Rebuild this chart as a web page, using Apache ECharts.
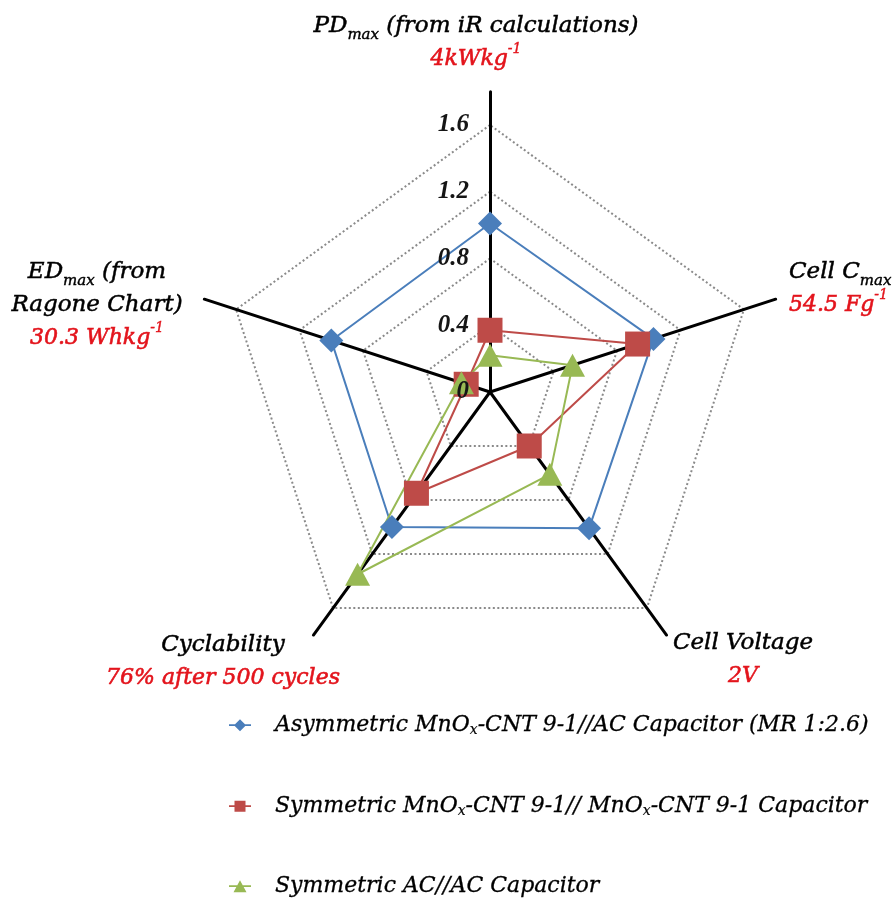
<!DOCTYPE html>
<html>
<head>
<meta charset="utf-8">
<script src="https://cdn.jsdelivr.net/npm/echarts@6.0.0/dist/echarts.min.js"></script>
<style>
html,body{margin:0;padding:0;background:#fff;}
#chart{width:895px;height:898px;}
</style>
</head>
<body>
<div id="chart"></div>
<script>
// ---- data ----
const indicatorNames = ['PDmax (from iR calculations)', 'EDmax (from Ragone Chart)', 'Cyclability', 'Cell Voltage', 'Cell Cmax'];
const indicatorTitles = [
  '{t|PD}{s|max}{t| (from iR calculations)}\n{r|4kWkg}{rs|-1}',
  '{t|ED}{s|max}{t| (from}\n{t|Ragone Chart)}\n{r|30.3 Whkg}{rs|-1}',
  '{t|Cyclability}\n{r|76% after 500 cycles}',
  '{t|Cell Voltage}\n{r|2V}',
  '{t|Cell C}{s|max}\n{r|54.5 Fg}{rs|-1}'
];
const tickValues = [0, 0.4, 0.8, 1.2, 1.6];
const axisMax = 1.6;
const axisLineMax = 1.8;
const seriesNames = [
  'Asymmetric MnOx-CNT 9-1//AC Capacitor (MR 1:2.6)',
  'Symmetric MnOx-CNT 9-1// MnOx-CNT 9-1 Capacitor',
  'Symmetric AC//AC Capacitor'
];
const legendLabels = [
  '{pad| }{t|Asymmetric MnO}{s|x}{t|-CNT 9-1//AC Capacitor (MR 1:2.6)}',
  '{pad| }{t|Symmetric MnO}{s|x}{t|-CNT 9-1// MnO}{s|x}{t|-CNT 9-1 Capacitor}',
  '{pad| }{t|Symmetric AC//AC Capacitor}'
];
// values in indicator order: PD, ED, Cyclability, Cell Voltage, Cell C
const asymValues = [1.01, 1.0, 1.0, 1.01, 1.03];
const symMnValues = [0.37, 0.15, 0.75, 0.40, 0.93];
const symACValues = [0.22, 0.18, 1.35, 0.61, 0.52];

// ---- styling ----
const colors = ['#4a7ebb', '#be4b48', '#98b954'];
const symbols = ['diamond', 'rect', 'triangle'];
const symbolSizes = [[24, 24], [25, 25], [25, 23]];
const legendIcons = [
  'path://M0,5.2L22,5.2L22,6.8L0,6.8Z M11,0L17,6L11,12L5,6Z',
  'path://M0,5.2L22,5.2L22,6.8L0,6.8Z M5.5,0.5L16.5,0.5L16.5,11.5L5.5,11.5Z',
  'path://M0,5.2L22,5.2L22,6.8L0,6.8Z M11,0L17.5,12L4.5,12Z'
];
const legendTops = [714, 795, 875];
const RED = '#e3141c';
const SERIF = 'DejaVu Serif';
const titleRich = {
  t: {fontFamily: SERIF, fontStyle: 'italic', fontSize: 23, fill: '#000', lineHeight: 33, stroke: '#000', lineWidth: 0.5},
  s: {fontFamily: SERIF, fontStyle: 'italic', fontSize: 15, fill: '#000', verticalAlign: 'bottom', lineHeight: 17, stroke: '#000', lineWidth: 0.4},
  r: {fontFamily: SERIF, fontStyle: 'italic', fontSize: 22, fill: RED, lineHeight: 33, stroke: RED, lineWidth: 0.6},
  rs: {fontFamily: SERIF, fontStyle: 'italic', fontSize: 14, fill: RED, verticalAlign: 'top', lineHeight: 22, stroke: RED, lineWidth: 0.4}
};
const titlePlacement = [
  {x: 476, y: 9.5, align: 'center'},
  {x: 97, y: 255.5, align: 'center'},
  {x: 223, y: 628.5, align: 'center'},
  {x: 743, y: 626.5, align: 'center'},
  {x: 789, y: 255.5, align: 'left'}
];
const CX = 490, CY = 392, R = 267;

const chart = echarts.init(document.getElementById('chart'), null, {renderer: 'canvas'});

const hiddenRadarParts = {
  axisName: {show: false},
  axisTick: {show: false},
  axisLabel: {show: false},
  splitArea: {show: false}
};

const option = {
  animation: false,
  backgroundColor: '#fff',
  radar: [
    Object.assign({
      center: [CX, CY],
      radius: R,
      startAngle: 90,
      shape: 'polygon',
      splitNumber: tickValues.length - 1,
      indicator: indicatorNames.map(n => ({name: n, min: 0, max: axisMax})),
      axisLine: {show: false},
      splitLine: {lineStyle: {color: '#8a8a8a', width: 2, type: [2, 2.5]}}
    }, hiddenRadarParts),
    Object.assign({
      center: [CX, CY],
      radius: R * axisLineMax / axisMax,
      startAngle: 90,
      shape: 'polygon',
      indicator: indicatorNames.map(n => ({name: n, min: 0, max: axisLineMax})),
      axisLine: {show: true, lineStyle: {color: '#000', width: 3}},
      splitLine: {show: false}
    }, hiddenRadarParts),
    // tick labels on top of everything
    Object.assign({
      z: 10,
      center: [CX, CY],
      radius: R,
      startAngle: 90,
      shape: 'polygon',
      splitNumber: tickValues.length - 1,
      indicator: indicatorNames.map((n, i) => {
        const ind = {name: n, min: 0, max: axisMax};
        if (i === 0) {
          ind.axisLabel = {
            show: true,
            margin: 21,
            fontFamily: 'Liberation Serif',
            fontStyle: 'italic',
            fontWeight: 'bold',
            fontSize: 25,
            color: '#151515',
            formatter: v => String(+(+v).toFixed(1))
          };
        }
        return ind;
      }),
      axisLine: {show: false},
      splitLine: {show: false}
    }, hiddenRadarParts)
  ],
  legend: seriesNames.map((n, i) => ({
    orient: 'vertical',
    left: 229,
    top: legendTops[i],
    padding: 0,
    itemWidth: 22,
    itemHeight: 12,
    selectedMode: false,
    data: [{name: n, icon: legendIcons[i]}],
    formatter: name => legendLabels[seriesNames.indexOf(name)],
    textStyle: {
      rich: {
        pad: {width: 19, fontSize: 22, lineHeight: 24},
        t: {fontFamily: SERIF, fontStyle: 'italic', fontSize: 22, color: '#000', lineHeight: 24, textBorderColor: '#000', textBorderWidth: 0.3},
        s: {fontFamily: SERIF, fontStyle: 'italic', fontSize: 14, color: '#000', verticalAlign: 'bottom', lineHeight: 13, textBorderColor: '#000', textBorderWidth: 0.2}
      }
    }
  })),
  graphic: indicatorTitles.map((txt, i) => ({
    type: 'text',
    x: titlePlacement[i].x,
    y: titlePlacement[i].y,
    silent: true,
    style: {
      text: txt,
      rich: titleRich,
      align: titlePlacement[i].align,
      verticalAlign: 'top'
    }
  })),
  series: [asymValues, symMnValues, symACValues].map((vals, i) => ({
    type: 'radar',
    radarIndex: 0,
    symbol: symbols[i],
    symbolSize: symbolSizes[i],
    itemStyle: {color: colors[i]},
    lineStyle: {color: colors[i], width: 2},
    data: [{name: seriesNames[i], value: vals}]
  }))
};
chart.setOption(option);
</script>
</body>
</html>
